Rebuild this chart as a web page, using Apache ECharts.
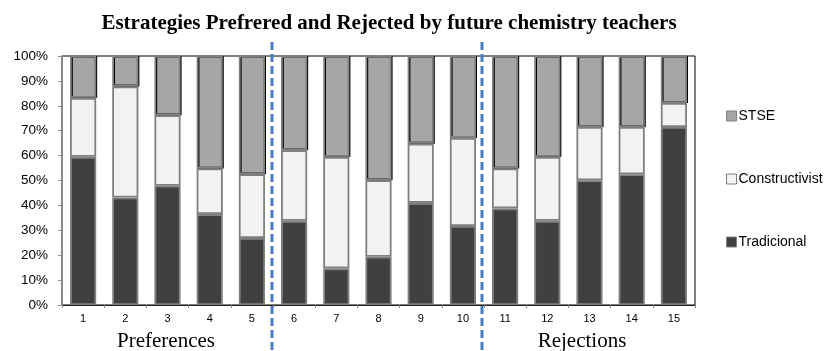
<!DOCTYPE html>
<html><head><meta charset="utf-8">
<script src="https://cdn.jsdelivr.net/npm/echarts@6/dist/echarts.min.js"></script>
<style>html,body{margin:0;padding:0;background:#fff}#c{width:830px;height:351px}</style>
</head><body><div id="c"></div>
<script>
const categories = ['1','2','3','4','5','6','7','8','9','10','11','12','13','14','15'];
const tradicional = [59.5, 43.2, 47.9, 36.5, 26.9, 33.8, 14.7, 19.4, 41.0, 31.7, 38.8, 33.8, 50.1, 52.5, 71.5];
const constructivist = [23.7, 44.6, 28.3, 18.3, 25.6, 28.4, 44.8, 30.7, 23.8, 35.4, 16.0, 25.7, 21.4, 19.0, 9.6];
const stse = [16.8, 12.2, 23.8, 45.2, 47.5, 37.8, 40.5, 49.9, 35.2, 32.9, 45.2, 40.5, 28.5, 28.5, 18.9];
const yTicks = ['0%','10%','20%','30%','40%','50%','60%','70%','80%','90%','100%'];

const chart = echarts.init(document.getElementById('c'));
const sans = '"Liberation Sans", Arial, sans-serif';
const serif = '"Liberation Serif", "Times New Roman", serif';
const barBorder = { borderColor: '#808080', borderWidth: 1.8 };
chart.setOption({
  animation: false,
  title: { text: 'Estrategies Prefrered and Rejected by future chemistry teachers', left: 384, textAlign: 'center', top: 8,
    textStyle: { fontFamily: serif, fontWeight: 'bold', fontSize: 21, color: '#000' } },
  legend: { orient: 'vertical', left: 721, top: 104, itemGap: 49, itemWidth: 10, itemHeight: 10, icon: 'rect',
    data: ['STSE','Constructivist','Tradicional'], selectedMode: false,
    itemStyle: { borderColor: '#808080', borderWidth: 1 },
    textStyle: { fontFamily: sans, fontSize: 14, color: '#000', padding: [0,0,0,-3] } },
  grid: { left: 62, right: 135, top: 56, bottom: 46, show: true, borderColor: '#000', borderWidth: 1 },
  xAxis: { type: 'category', data: categories,
    axisLine: { lineStyle: { color: '#222', width: 1.2 } },
    axisTick: { show: true, interval: 0, length: 3, lineStyle: { color: '#888' } },
    axisLabel: { fontFamily: sans, fontSize: 11, color: '#000', margin: 8 } },
  yAxis: { type: 'value', min: 0, max: 100, interval: 10,
    axisLine: { show: true, lineStyle: { color: '#8c8c8c', width: 1.5 } },
    axisTick: { show: true, length: 4, lineStyle: { color: '#8c8c8c' } },
    splitLine: { show: false },
    axisLabel: { fontFamily: sans, fontSize: 13.5, color: '#000', margin: 14,
      formatter: (v) => yTicks[Math.round(v / 10)] } },
  series: [
    { name: 'Tradicional', type: 'bar', stack: 's', data: tradicional, barCategoryGap: '38%',
      itemStyle: Object.assign({ color: '#404040' }, barBorder) },
    { name: 'Constructivist', type: 'bar', stack: 's', data: constructivist,
      itemStyle: Object.assign({ color: '#f2f2f2' }, barBorder) },
    { name: 'STSE', type: 'bar', stack: 's', data: stse,
      itemStyle: Object.assign({ color: '#a6a6a6', shadowColor: '#000', shadowBlur: 0, shadowOffsetX: 1, shadowOffsetY: 0 }, barBorder) }
  ]
});

function boundary(i) {
  const a = chart.convertToPixel({ xAxisIndex: 0 }, i - 1);
  const b = chart.convertToPixel({ xAxisIndex: 0 }, i);
  return (a + b) / 2;
}
const x1 = boundary(5) - 1, x2 = boundary(10) - 2;
const dash = { stroke: '#4a7ebb', lineWidth: 3, lineDash: [8, 4] };
chart.setOption({
  graphic: [
    { type: 'line', shape: { x1: x1, y1: 42, x2: x1, y2: 351 }, style: dash, z: 100 },
    { type: 'line', shape: { x1: x2, y1: 42, x2: x2, y2: 351 }, style: dash, z: 100 },
    { type: 'text', x: 166, y: 341, style: { text: 'Preferences', font: '21px ' + serif, fill: '#000', textAlign: 'center', textVerticalAlign: 'middle' } },
    { type: 'text', x: 582, y: 341, style: { text: 'Rejections', font: '21px ' + serif, fill: '#000', textAlign: 'center', textVerticalAlign: 'middle' } }
  ]
});
</script>
</body></html>
